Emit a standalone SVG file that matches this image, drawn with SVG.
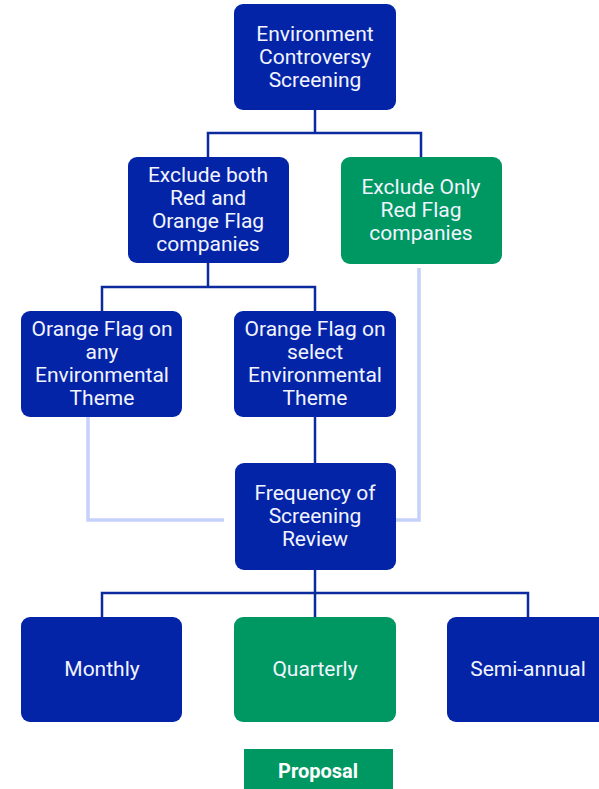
<svg xmlns="http://www.w3.org/2000/svg" width="599" height="789" viewBox="0 0 599 789">
<style>
.b{fill:#0424A8}
.g{fill:#009862}
.t{font-family:Roboto,"Liberation Sans",sans-serif;font-size:21px;fill:#F2F4FF;text-anchor:middle}
.p{font-family:Roboto,"Liberation Sans",sans-serif;font-size:20px;font-weight:bold;fill:#FFFFFF;text-anchor:middle}
.c{fill:none;stroke:#0A2A9E;stroke-width:2.5}
.l{fill:none;stroke:#C5D1FA;stroke-width:3.5}
</style>
<rect width="599" height="789" fill="#FFFFFF"/>
<g id="connectors">
<path class="c" d="M315 110V133M208 157V133H421V157"/>
<path class="c" d="M208 263V287M102 311V287H315V311"/>
<path class="c" d="M315 417V463"/>
<path class="c" d="M315 570V593M102 617V593H528V617M315 593V617"/>
<path class="l" d="M88 417V520H224"/>
<path class="l" d="M419 268V520H392"/>
</g>
<g id="n1"><rect class="b" x="234" y="4" width="162" height="106" rx="9"/>
<text class="t" x="315" y="41">Environment</text><text class="t" x="315" y="64">Controversy</text><text class="t" x="315" y="87">Screening</text></g>
<g id="n2"><rect class="b" x="128" y="157" width="161" height="106" rx="9"/>
<text class="t" x="208" y="182">Exclude both</text><text class="t" x="208" y="205">Red and</text><text class="t" x="208" y="228">Orange Flag</text><text class="t" x="208" y="251">companies</text></g>
<g id="n3"><rect class="g" x="341" y="157" width="161" height="107" rx="9"/>
<text class="t" x="421" y="194">Exclude Only</text><text class="t" x="421" y="217">Red Flag</text><text class="t" x="421" y="240">companies</text></g>
<g id="n4"><rect class="b" x="21" y="311" width="161" height="106" rx="9"/>
<text class="t" x="102" y="336">Orange Flag on</text><text class="t" x="102" y="359">any</text><text class="t" x="102" y="382">Environmental</text><text class="t" x="102" y="405">Theme</text></g>
<g id="n5"><rect class="b" x="234" y="311" width="162" height="106" rx="9"/>
<text class="t" x="315" y="336">Orange Flag on</text><text class="t" x="315" y="359">select</text><text class="t" x="315" y="382">Environmental</text><text class="t" x="315" y="405">Theme</text></g>
<g id="n6"><rect class="b" x="235" y="463" width="161" height="107" rx="9"/>
<text class="t" x="315" y="500">Frequency of</text><text class="t" x="315" y="523">Screening</text><text class="t" x="315" y="546">Review</text></g>
<g id="n7"><rect class="b" x="21" y="617" width="161" height="105" rx="9"/>
<text class="t" x="102" y="676">Monthly</text></g>
<g id="n8"><rect class="g" x="234" y="617" width="162" height="105" rx="9"/>
<text class="t" x="315" y="676">Quarterly</text></g>
<g id="n9"><rect class="b" x="447" y="617" width="162" height="105" rx="9"/>
<text class="t" x="528" y="676">Semi-annual</text></g>
<g id="legend"><rect class="g" x="244" y="749" width="149" height="40"/>
<text class="p" x="318" y="778">Proposal</text></g>
</svg>
